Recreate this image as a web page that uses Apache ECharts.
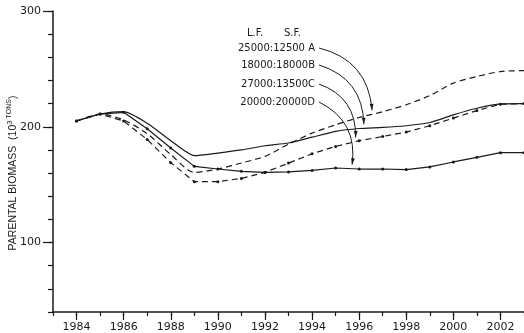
<!DOCTYPE html>
<html>
<head>
<meta charset="utf-8">
<script src="https://cdn.jsdelivr.net/npm/echarts@6/dist/echarts.min.js"></script>
<style>
  html, body { margin: 0; padding: 0; background: #fff; }
  #chart { width: 524px; height: 333px; }
</style>
</head>
<body>
<div id="chart"></div>
<script>
// Years on the x axis and parental biomass (10^3 tons) for the four catch cases
const years = [1984, 1985, 1986, 1987, 1988, 1989, 1990, 1991, 1992, 1993,
  1994, 1995, 1996, 1997, 1998, 1999, 2000, 2001, 2002, 2003];
const caseA = [205, 211, 206, 194, 176, 160.6, 163.5, 168.7, 174.4, 185,
  194.5, 201.7, 208, 213, 219, 227, 237.7, 243.4, 247.7, 248.5];
const caseB = [205, 211, 213, 203, 188, 175, 177.3, 180, 183.6, 186,
  191, 196, 198.5, 199.4, 200.9, 203.7, 210.3, 216, 219.8, 220];
const caseC = [205, 211, 205, 189, 169, 152.6, 152.6, 155.4, 160.6, 168.6,
  176.7, 183, 188, 191.6, 195.4, 200.9, 207.5, 214, 219.5, 220];
const caseD = [205, 211, 212.5, 198.3, 181.6, 165.8, 163.5, 161.5, 160.6, 161,
  162.3, 164.4, 163.5, 163.5, 163, 165.3, 169.6, 173.6, 177.6, 177.6];

const xTickLabels = [1984, 1986, 1988, 1990, 1992, 1994, 1996, 1998, 2000, 2002];
const yTickLabels = [100, 200, 300];

const caseLabels = ["25000:12500 A", "18000:18000B", "27000:13500C", "20000:20000D"];
const arrowYears = [1996.55, 1996.2, 1995.85, 1995.7];

const ink = "#1a1a1a";
const font = "DejaVu Sans";

const interp = (arr, yr) => {
  const i = Math.min(Math.floor(yr - years[0]), years.length - 2);
  const t = yr - years[i];
  return arr[i] + (arr[i + 1] - arr[i]) * t;
};

const chart = echarts.init(document.getElementById("chart"));

const cases = [
  { name: "A", data: caseA, dashed: true, marks: false, smooth: 0.25 },
  { name: "B", data: caseB, dashed: false, marks: false, smooth: 0.2 },
  { name: "C", data: caseC, dashed: true, marks: true, smooth: 0 },
  { name: "D", data: caseD, dashed: false, marks: true, smooth: 0 },
];

const labelRows = [48, 65, 84, 102];

const series = cases.map((c) => ({
  name: c.name,
  type: "line",
  data: years.map((yr, i) => [yr, c.data[i]]),
  smooth: c.smooth,
  showSymbol: c.marks,
  symbol: "circle",
  symbolSize: 3,
  itemStyle: { color: ink },
  lineStyle: { color: ink, width: 1.2, type: c.dashed ? [6, 4] : "solid" },
  silent: true,
}));

const option = {
  animation: false,
  grid: { left: 53, right: 0, top: 11, bottom: 21, outerBoundsMode: "none" },
  xAxis: [
    {
      type: "value",
      min: 1983,
      max: 2003,
      interval: 1,
      axisLine: { lineStyle: { color: ink, width: 1.5 } },
      axisTick: { length: 4, lineStyle: { color: ink, width: 1.2 } },
      axisLabel: { show: false },
      splitLine: { show: false },
    },
    {
      type: "value",
      min: 1983,
      max: 2003,
      position: "bottom",
      axisLine: { show: false },
      axisTick: { customValues: xTickLabels, length: 8, lineStyle: { color: ink, width: 1.2 } },
      axisLabel: {
        customValues: xTickLabels,
        formatter: (v) => String(v),
        color: ink,
        fontFamily: font,
        fontSize: 11,
        margin: 10,
      },
      splitLine: { show: false },
    },
  ],
  yAxis: [
    {
      type: "value",
      min: 40,
      max: 300,
      interval: 20,
      axisLine: { show: true, lineStyle: { color: ink, width: 1.5 } },
      axisTick: { show: true, length: 5, lineStyle: { color: ink, width: 1.2 } },
      axisLabel: { show: false },
      splitLine: { show: false },
    },
    {
      type: "value",
      min: 40,
      max: 300,
      position: "left",
      axisLine: { show: false },
      axisTick: { show: true, customValues: yTickLabels, length: 10, lineStyle: { color: ink, width: 1.2 } },
      axisLabel: {
        customValues: yTickLabels,
        formatter: (v) => String(v),
        color: ink,
        fontFamily: font,
        fontSize: 11,
        margin: 12,
      },
      splitLine: { show: false },
    },
  ],
  series,
};

chart.setOption(option);

// annotation text and curved arrows pointing at each case's line
const graphics = [
  {
    type: "text",
    x: 13,
    y: 173,
    rotation: Math.PI / 2,
    silent: true,
    style: {
      text: "{a|PARENTAL BIOMASS  (10}{s|3}{t| TONS}{a|)}",
      align: "center",
      verticalAlign: "middle",
      fill: ink,
      rich: {
        a: { fontFamily: "Liberation Sans", fontSize: 10.5, fill: ink, lineHeight: 14 },
        s: { fontFamily: "Liberation Sans", fontSize: 8, fill: ink, verticalAlign: "top", lineHeight: 14 },
        t: { fontFamily: "Liberation Sans", fontSize: 7, fill: ink, verticalAlign: "top", lineHeight: 14 },
      },
    },
  },
  { type: "text", x: 247, y: 28, silent: true, style: { text: "L.F.", fill: ink, font: "10px DejaVu Sans" } },
  { type: "text", x: 284, y: 28, silent: true, style: { text: "S.F.", fill: ink, font: "10px DejaVu Sans" } },
];

cases.forEach((c, k) => {
  const y0 = labelRows[k];
  graphics.push({
    type: "text",
    x: 315,
    y: y0,
    silent: true,
    style: { text: caseLabels[k], fill: ink, font: "10px DejaVu Sans", align: "right", verticalAlign: "middle" },
  });
  const start = [319, y0];
  const end = chart.convertToPixel({ xAxisIndex: 0, yAxisIndex: 0 },
    [arrowYears[k], interp(c.data, arrowYears[k])]);
  end[1] -= 4;
  const dx = end[0] - start[0];
  const dy = end[1] - start[1];
  const cv = 0.36;
  const cp = [(start[0] + end[0]) / 2 + dy * cv, (start[1] + end[1]) / 2 - dx * cv];
  graphics.push({
    type: "bezierCurve",
    silent: true,
    shape: { x1: start[0], y1: start[1], x2: end[0], y2: end[1], cpx1: cp[0], cpy1: cp[1] },
    style: { stroke: ink, lineWidth: 1, fill: null },
  });
  const ang = Math.atan2(end[1] - cp[1], end[0] - cp[0]);
  const L = 6.5, W = 1.9;
  const bx = end[0] - L * Math.cos(ang), by = end[1] - L * Math.sin(ang);
  graphics.push({
    type: "polygon",
    silent: true,
    shape: {
      points: [
        end,
        [bx + W * Math.sin(ang), by - W * Math.cos(ang)],
        [bx - W * Math.sin(ang), by + W * Math.cos(ang)],
      ],
    },
    style: { fill: ink },
  });
});

chart.setOption({ graphic: graphics });
</script>
</body>
</html>
